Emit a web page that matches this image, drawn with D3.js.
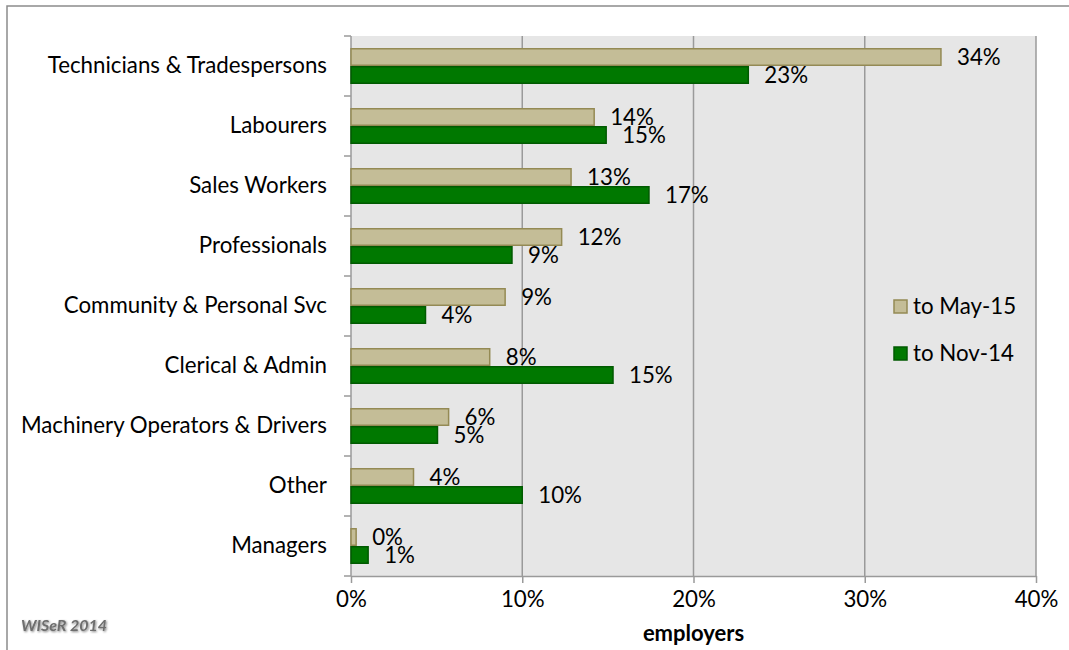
<!DOCTYPE html>
<html>
<head>
<meta charset="utf-8">
<script src="https://cdn.jsdelivr.net/npm/d3@7"></script>
<style>
  html, body { margin: 0; padding: 0; background: #fff; }
  svg { display: block; }
  text { font-family: Lato, "Open Sans", sans-serif; fill: #000; }
</style>
</head>
<body>
<svg id="chart" width="1069" height="650"></svg>
<script>
// Occupation groups, top to bottom
const categories = [
  "Technicians & Tradespersons",
  "Labourers",
  "Sales Workers",
  "Professionals",
  "Community & Personal Svc",
  "Clerical & Admin",
  "Machinery Operators & Drivers",
  "Other",
  "Managers"
];
// Share of employers (%), per period
const seriesNames = ["to May-15", "to Nov-14"];
const mayValues = [34.45, 14.2, 12.85, 12.3, 9.0, 8.1, 5.7, 3.65, 0.3];
const novValues = [23.2, 14.9, 17.4, 9.4, 4.35, 15.3, 5.05, 10.0, 1.0];
const xTicks = [0, 10, 20, 30, 40];
const axisTitle = "employers";
const sourceNote = "WISeR 2014";

const colors = { fill: ["#c4bd97", "#007800"], stroke: ["#948a54", "#005a00"] };
const fontSize = 22.3;

const svg = d3.select("#chart");
const plot = { left: 351, right: 1036, top: 36, bottom: 576 };

const x = d3.scaleLinear().domain([0, 40]).range([plot.left, plot.right]);
const y = d3.scaleBand().domain(categories).range([plot.top, plot.bottom]);
const sub = d3.scaleBand().domain([0, 1]).range([12, y.bandwidth() - 12]);

// outer frame (top and left edges)
svg.append("path")
  .attr("d", `M7,650 V6 H1069`)
  .attr("fill", "none").attr("stroke", "#8c8c8c").attr("stroke-width", 1.5);

// plot background
svg.append("rect")
  .attr("x", plot.left).attr("y", plot.top)
  .attr("width", plot.right - plot.left).attr("height", plot.bottom - plot.top)
  .attr("fill", "#e6e6e6");

// vertical gridlines
svg.append("g").selectAll("line")
  .data(xTicks.filter(d => d > 0))
  .join("line")
  .attr("x1", d => x(d)).attr("x2", d => x(d))
  .attr("y1", plot.top).attr("y2", plot.bottom)
  .attr("stroke", "#9a9a9a").attr("stroke-width", 1.5);

// x axis
const xAxis = svg.append("g")
  .attr("transform", `translate(0,${plot.bottom})`)
  .call(d3.axisBottom(x).tickValues(xTicks).tickFormat(d => d + "%").tickSize(7).tickSizeOuter(0).tickPadding(8));
xAxis.select(".domain").attr("stroke", "#9a9a9a").attr("stroke-width", 1.5);
xAxis.selectAll(".tick line").attr("stroke", "#9a9a9a").attr("stroke-width", 1.5);
xAxis.selectAll(".tick text")
  .attr("font-family", "Lato, sans-serif").attr("font-size", fontSize).attr("fill", "#000");

// y axis line and category boundary ticks
const yAxis = svg.append("g");
yAxis.append("line")
  .attr("x1", plot.left).attr("x2", plot.left)
  .attr("y1", plot.top).attr("y2", plot.bottom)
  .attr("stroke", "#9a9a9a").attr("stroke-width", 1.5);
yAxis.selectAll("line.tick")
  .data(categories.map(c => y(c)).concat([plot.bottom]))
  .join("line").attr("class", "tick")
  .attr("x1", plot.left - 7).attr("x2", plot.left)
  .attr("y1", d => d).attr("y2", d => d)
  .attr("stroke", "#9a9a9a").attr("stroke-width", 1.5);
yAxis.selectAll("text")
  .data(categories)
  .join("text")
  .attr("x", 327)
  .attr("y", d => y(d) + y.bandwidth() / 2)
  .attr("dy", "0.3em")
  .attr("text-anchor", "end")
  .attr("font-size", fontSize)
  .text(d => d);

// bars and value labels
const series = [mayValues, novValues];
series.forEach((vals, si) => {
  const g = svg.append("g");
  g.selectAll("rect")
    .data(vals)
    .join("rect")
    .attr("x", x(0))
    .attr("y", (d, i) => y(categories[i]) + sub(si) + 0.75)
    .attr("width", d => x(d) - x(0))
    .attr("height", sub.bandwidth() - 1.5)
    .attr("fill", colors.fill[si])
    .attr("stroke", colors.stroke[si])
    .attr("stroke-width", 1.5);
  g.selectAll("text")
    .data(vals)
    .join("text")
    .attr("x", d => x(d) + 16)
    .attr("y", (d, i) => y(categories[i]) + sub(si) + sub.bandwidth() / 2)
    .attr("dy", "0.34em")
    .attr("font-size", fontSize)
    .text(d => Math.round(d) + "%");
});

// legend
const legend = svg.append("g");
seriesNames.forEach((name, i) => {
  const ly = 300 + i * 47;
  legend.append("rect")
    .attr("x", 894).attr("y", ly).attr("width", 13).attr("height", 13)
    .attr("fill", colors.fill[i]).attr("stroke", colors.stroke[i]).attr("stroke-width", 1.5);
  legend.append("text")
    .attr("x", 913).attr("y", ly + 14)
    .attr("font-size", fontSize)
    .text(name);
});

// axis title
svg.append("text")
  .attr("x", 693.5).attr("y", 641)
  .attr("text-anchor", "middle")
  .attr("font-size", 22).attr("font-weight", "bold")
  .text(axisTitle);

// source note with soft shadow
const defs = svg.append("defs");
const f = defs.append("filter").attr("id", "soft").attr("x", "-10%").attr("y", "-30%").attr("width", "130%").attr("height", "160%");
f.append("feGaussianBlur").attr("in", "SourceAlpha").attr("stdDeviation", 1.2).attr("result", "b");
f.append("feOffset").attr("in", "b").attr("dx", 1).attr("dy", 1).attr("result", "o");
f.append("feComponentTransfer").attr("in", "o").attr("result", "s")
  .append("feFuncA").attr("type", "linear").attr("slope", 0.5);
const m = f.append("feMerge");
m.append("feMergeNode").attr("in", "s");
m.append("feMergeNode").attr("in", "SourceGraphic");
svg.append("text")
  .attr("x", 21).attr("y", 631)
  .attr("font-size", 16).attr("font-style", "italic").attr("font-weight", "bold")
  .attr("fill", "#6e6e6e").style("fill", "#6e6e6e")
  .attr("filter", "url(#soft)")
  .text(sourceNote);
</script>
</body>
</html>
